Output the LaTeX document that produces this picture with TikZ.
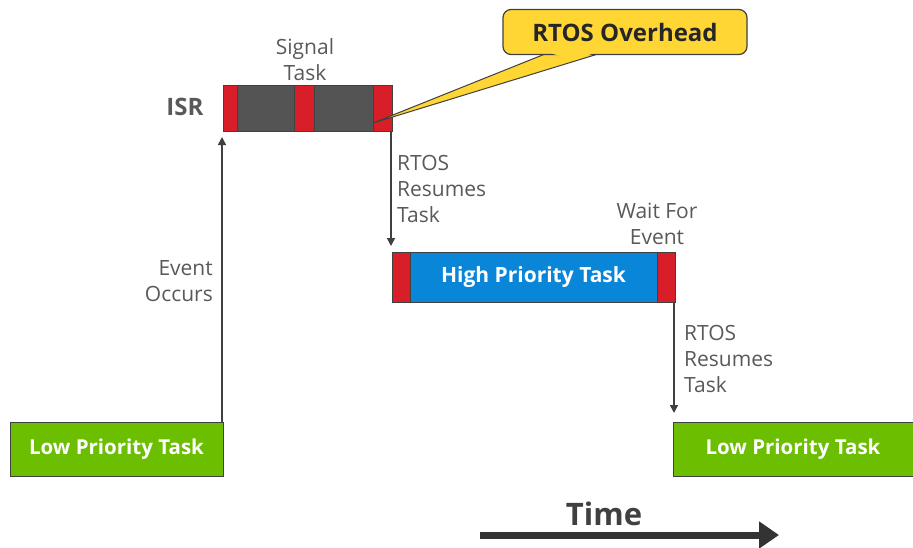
\documentclass[tikz,border=0pt]{standalone}
\usepackage{fontspec}
\setmainfont{Open Sans}
\usetikzlibrary{arrows.meta}
\definecolor{taskgreen}{HTML}{6BBE00}
\definecolor{taskblue}{HTML}{0A86D8}
\definecolor{ovred}{HTML}{D81E28}
\definecolor{isrgray}{HTML}{545454}
\definecolor{edge}{HTML}{404040}
\definecolor{txt}{HTML}{595959}
\definecolor{callout}{HTML}{FFD633}
\tikzset{
  lowtask/.style={draw=edge, line width=0.8pt, fill=taskgreen, minimum width=213pt, minimum height=54pt, inner sep=0pt, text=white, font=\bfseries\fontsize{20.5}{22}\selectfont},
  lbl/.style={text=txt, font=\fontsize{21}{26}\selectfont, inner sep=0pt},
  flow/.style={draw=edge, line width=1.6pt, -{Triangle[length=8pt,width=8pt]}},
}
\begin{document}
\begin{tikzpicture}[x=1pt,y=-1pt]
\useasboundingbox (0,0) rectangle (913,547);

% ISR bar with overhead segments
\fill[isrgray] (223,85) rectangle (392,131);
\fill[ovred] (223,85) rectangle (237,131);
\fill[ovred] (294,85) rectangle (314,131);
\fill[ovred] (373,85) rectangle (392,131);
\draw[edge, line width=0.9pt] (237,85) -- (237,131) (294,85) -- (294,131) (314,85) -- (314,131) (373,85) -- (373,131);
\node[draw=edge, line width=1pt, minimum width=169pt, minimum height=46pt, inner sep=0pt] (isr) at (307.5,108) {};
\node[text=txt, font=\bfseries\fontsize{24}{26}\selectfont, anchor=east] (isrl) at (207,107) {ISR};
\node[lbl, align=center] (sig) at (305,60) {Signal\\Task};

% callout
\coordinate (tip) at (373,123);
\fill[callout, draw=edge, line width=1pt] (545,54) -- (tip) -- (598,54) -- cycle;
\node[draw=edge, line width=1.2pt, fill=callout, rounded corners=8pt, minimum width=244pt, minimum height=45pt, inner sep=0pt, font=\bfseries\fontsize{24}{26}\selectfont, text=black!85] (ov) at (625,32) {RTOS Overhead};
\fill[callout] (546,52) -- (597,52) -- (575,60) -- cycle;

% high priority task bar
\fill[taskblue] (392,252) rectangle (675,302);
\fill[ovred] (392,252) rectangle (410,302);
\fill[ovred] (657,252) rectangle (675,302);
\draw[edge, line width=0.9pt] (410,252) -- (410,302) (657,252) -- (657,302);
\node[draw=edge, line width=1pt, minimum width=283pt, minimum height=50pt, inner sep=0pt, text=white, font=\bfseries\fontsize{21}{23}\selectfont] (hp) at (533.5,277) {High Priority Task};

% low priority tasks
\node[lowtask] (lp1) at (116.5,449) {Low Priority Task};
\node[lowtask, minimum width=240pt] (lp2) at (793,449) {Low Priority Task};

% transitions
\draw[flow] (222,422) -- (222,137);
\node[lbl, align=right, anchor=east] (ev) at (213,281) {Event\\Occurs};
\draw[flow] (391,131) -- (391,246);
\node[lbl, align=left, anchor=west] (r1) at (397,189) {RTOS\\Resumes\\Task};
\node[lbl, align=center] (wf) at (657,224) {Wait For\\Event};
\draw[flow] (674,302) -- (674,413);
\node[lbl, align=left, anchor=west] (r2) at (684,359) {RTOS\\Resumes\\Task};

% time axis
\node[text=black!75, font=\bfseries\fontsize{31}{34}\selectfont] (time) at (604,514) {Time};
\coordinate (t0) at (480,535);
\coordinate (t1) at (779,535);
\draw[black!80, line width=7pt, -{Triangle[length=20pt,width=26pt]}] (t0) -- (t1);
\end{tikzpicture}
\end{document}
